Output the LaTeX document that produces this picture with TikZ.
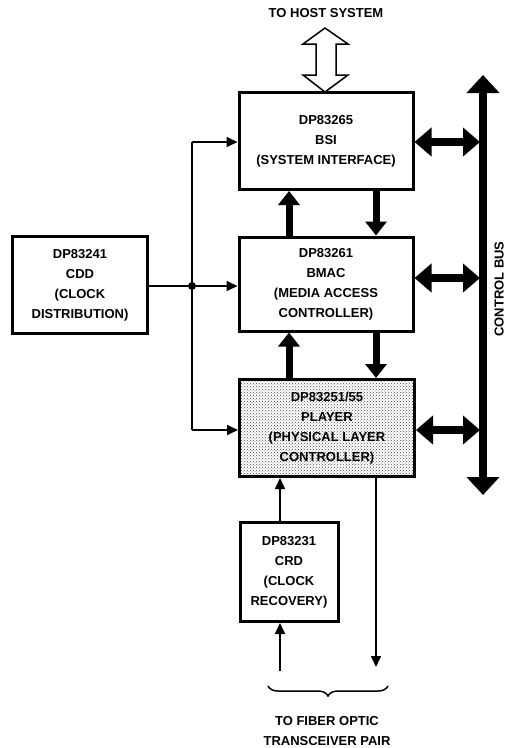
\documentclass[tikz,border=0pt]{standalone}
\usepackage{fontspec}
\setmainfont{Liberation Sans}
\usetikzlibrary{arrows.meta,patterns,decorations.pathreplacing}
\begin{document}
\begin{tikzpicture}[x=1pt,y=-1pt,
  lbl/.style={font=\fontsize{13}{20}\selectfont\bfseries, align=center},
  box/.style={draw, line width=3pt, align=center, font=\fontsize{13}{20}\selectfont\bfseries, inner sep=0pt},
  thin/.style={line width=1.6pt, -{Triangle[width=10pt,length=11pt]}},
  thinline/.style={line width=1.6pt},
  fat/.style={line width=7pt, -{Triangle[width=21pt,length=14pt]}},
  dbl/.style={line width=8pt, {Triangle[width=28pt,length=17pt]}-{Triangle[width=28pt,length=17pt]}},
  busst/.style={line width=8pt, {Triangle[width=32pt,length=18pt]}-{Triangle[width=32pt,length=18pt]}}]
\useasboundingbox (0,0) rectangle (505,748);

% boxes
\node[box, minimum width=174pt, minimum height=97pt] (bsi) at (326,141) {DP83265\\BSI\\(SYSTEM INTERFACE)};
\node[box, minimum width=174pt, minimum height=94pt] (bmac) at (326,284) {DP83261\\BMAC\\(MEDIA ACCESS\\CONTROLLER)};
\node[box, minimum width=175pt, minimum height=97pt, pattern=crosshatch dots, pattern color=black!70] (player) at (327,428) {DP83251/55\\PLAYER\\(PHYSICAL LAYER\\CONTROLLER)};
\node[box, minimum width=135pt, minimum height=97pt] (cdd) at (80,285) {DP83241\\CDD\\(CLOCK\\DISTRIBUTION)};
\node[box, minimum width=98pt, minimum height=99pt] (crd) at (289,572) {DP83231\\CRD\\(CLOCK\\RECOVERY)};

% labels
\node[lbl] (host) at (326,13) {TO HOST SYSTEM};
\node[lbl] (fiber) at (327,731) {TO FIBER OPTIC\\TRANSCEIVER PAIR};
\node[lbl, rotate=90, anchor=south, inner sep=1pt] (cbus) at (505,289) {CONTROL BUS};

% host hollow double arrow
\draw[line width=1.5pt, fill=white] (325,28) -- (303,44) -- (316,44) -- (316,75) -- (303,75) -- (325,92)
  -- (348,75) -- (336,75) -- (336,44) -- (348,44) -- cycle;

% clock distribution
\coordinate (j) at (192,286);
\coordinate (jt) at (192,142);
\coordinate (jb) at (192,430);
\draw[thinline] (cdd.east |- j) -- (j);
\draw[thinline] (jt) -- (jb);
\fill (j) circle (4pt);
\draw[thin] (jt) -- (jt -| bsi.west);
\draw[thin] (j) -- (j -| bmac.west);
\draw[thin] (jb) -- (jb -| player.west);

% fat arrows between boxes
\coordinate (ux) at (289,0);
\coordinate (dx) at (376,0);
\draw[fat] (ux |- bmac.north) -- (ux |- bsi.south);
\draw[fat] (dx |- bsi.south) -- (dx |- bmac.north);
\draw[fat] (ux |- player.north) -- (ux |- bmac.south);
\draw[fat] (dx |- bmac.south) -- (dx |- player.north);

% control bus
\coordinate (bt) at (483,75);
\coordinate (bb) at (483,495);
\coordinate (bl) at (480,0);
\draw[busst] (bb) -- (bt);
\coordinate (h1) at (0,142);
\coordinate (h2) at (0,278);
\coordinate (h3) at (0,430);
\draw[dbl] (bsi.east |- h1) -- (bl |- h1);
\draw[dbl] (bmac.east |- h2) -- (bl |- h2);
\draw[dbl] (player.east |- h3) -- (bl |- h3);

% CRD and fiber
\coordinate (cx) at (280,0);
\coordinate (fin) at (280,671);
\coordinate (fout) at (376,667);
\draw[thin] (cx |- crd.north) -- (cx |- player.south);
\draw[thin] (fin) -- (fin |- crd.south);
\draw[thin] (dx |- player.south) -- (fout);

% brace
\coordinate (br1) at (268,686);
\coordinate (br2) at (388,686);
\draw[line width=1.5pt, decorate, decoration={brace, mirror, amplitude=10pt}] (br1) -- (br2);
\end{tikzpicture}
\end{document}
